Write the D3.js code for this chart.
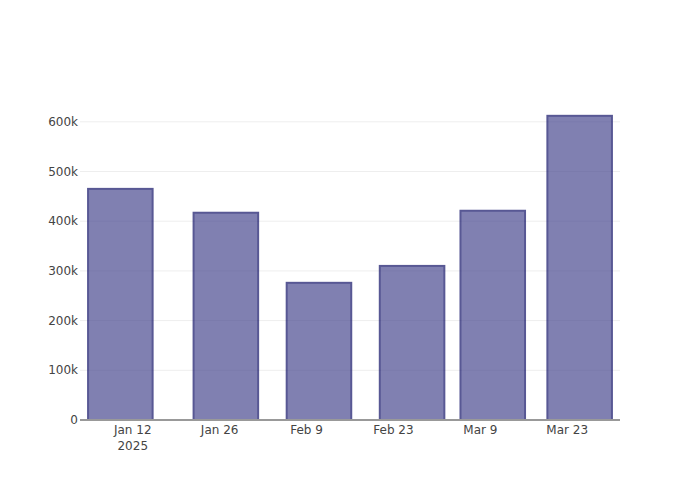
<!DOCTYPE html>
<html><head><meta charset="utf-8">
<script src="https://cdn.jsdelivr.net/npm/d3@7"></script>
<style>body{margin:0;background:#fff}svg{font-family:"DejaVu Sans",sans-serif}</style>
</head><body>
<svg id="c" width="700" height="500"></svg>
<script>
const dates = ["2025-01-10","2025-01-27","2025-02-11","2025-02-26","2025-03-11","2025-03-25"];
const values = [465000, 417000, 276000, 310000, 421000, 612000];
const xTicks = ["2025-01-12","2025-01-26","2025-02-09","2025-02-23","2025-03-09","2025-03-23"];
const yTicks = [0,100000,200000,300000,400000,500000,600000];

const svg = d3.select("#c");
const m = {l:80, r:80, t:100, b:80};
const W = 700, H = 500;
const parse = d3.utcParse("%Y-%m-%d");
const dd = dates.map(parse);
const minDiff = d3.min(d3.pairs(dd), p => p[1]-p[0]);
const x = d3.scaleUtc()
  .domain([new Date(+dd[0]-minDiff/2), new Date(+dd[dd.length-1]+minDiff/2)])
  .range([m.l, W-m.r]);
const y = d3.scaleLinear().domain([0, d3.max(values)*1.052]).range([H-m.b, m.t]);
const bw = x(new Date(+dd[0]+minDiff*0.8)) - x(dd[0]);

// grid
svg.append("g").selectAll("line").data(yTicks.slice(1)).join("line")
  .attr("x1", m.l).attr("x2", W-m.r)
  .attr("y1", d=>y(d)).attr("y2", d=>y(d))
  .attr("stroke", "#eee").attr("stroke-width", 1);

// bars
svg.append("g").selectAll("rect").data(values).join("rect")
  .attr("x", (d,i)=>x(dd[i]) - bw/2)
  .attr("width", bw)
  .attr("y", d=>y(d))
  .attr("height", d=>y(0)-y(d))
  .attr("fill", "#4b4b91")
  .attr("stroke", "#121268")
  .attr("stroke-width", 2)
  .attr("opacity", 0.7);

// x axis line
svg.append("line").attr("x1", m.l).attr("x2", W-m.r)
  .attr("y1", y(0)).attr("y2", y(0))
  .attr("stroke", "#999").attr("stroke-width", 2);

// y labels
const fmt = d => d===0 ? "0" : (d/1000)+"k";
svg.append("g").selectAll("text").data(yTicks).join("text")
  .attr("x", m.l-2).attr("y", d=>y(d)).attr("dy", "0.35em")
  .attr("text-anchor", "end").attr("font-size", 12).attr("fill", "#444")
  .text(fmt);

// x labels
const xf = d3.utcFormat("%b %-d");
svg.append("g").selectAll("text").data(xTicks.map(parse)).join("text")
  .attr("x", d=>x(d)).attr("y", y(0)+10).attr("dy", "0.35em")
  .attr("text-anchor", "middle").attr("font-size", 12).attr("fill", "#444")
  .text(xf);
svg.append("text").attr("x", x(parse(xTicks[0]))).attr("y", y(0)+26).attr("dy","0.35em")
  .attr("text-anchor","middle").attr("font-size",12).attr("fill","#444").text("2025");
</script>
</body></html>
